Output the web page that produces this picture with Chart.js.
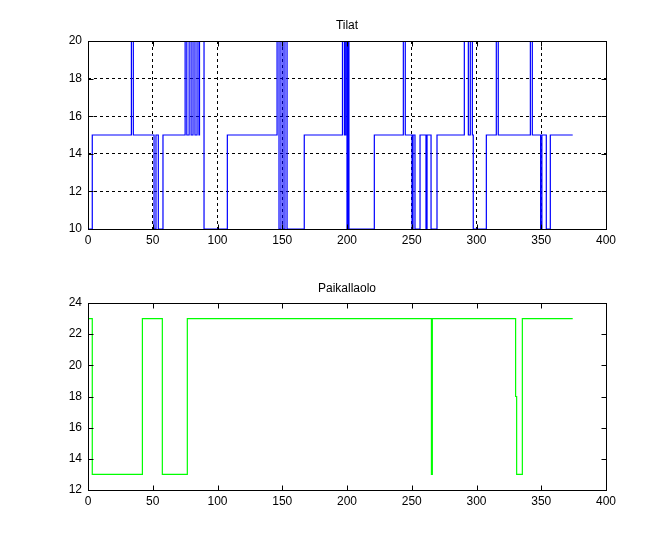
<!DOCTYPE html>
<html>
<head>
<meta charset="utf-8">
<script src="https://cdn.jsdelivr.net/npm/chart.js@4"></script>
<style>
  body { margin: 0; background: #fff; }
  .plot { position: absolute; left: 0; }
</style>
</head>
<body>
<canvas id="tilat" class="plot" width="670" height="275" style="top:0"></canvas>
<canvas id="paikalla" class="plot" width="670" height="275" style="top:275px"></canvas>
<script>
// Tilat: step positions and the state taken from that x onward
const tilatX = [0, 0.3, 3.3, 33.5, 35.0, 51.0, 52.5, 54.3, 57.9,
  75.0, 76.3, 78.1, 79.6, 81.1, 82.6, 84.2, 85.7, 86.1, 89.6,
  107.6, 146.0, 147.5, 149.0, 150.6, 152.1, 153.7, 167.0,
  196.5, 198.0, 199.0, 200.0, 200.8, 201.5, 221.1,
  243.5, 245.0, 250.2, 251.0, 252.5, 256.4, 261.0, 261.8, 264.9, 269.5,
  290.6, 293.7, 295.2, 296.8, 297.5, 307.6, 315.3, 316.8,
  341.6, 343.1, 349.5, 350.5, 353.9, 357.0, 374.3];
const tilatY = [20, 10, 15, 20, 15, 10, 15, 10, 15,
  20, 15, 20, 15, 20, 15, 20, 15, 20, 10,
  15, 20, 10, 20, 10, 20, 10, 15,
  20, 15, 20, 10, 20, 10, 15,
  20, 15, 10, 15, 10, 15, 10, 15, 10, 15,
  20, 15, 20, 15, 10, 15, 20, 15,
  20, 15, 10, 15, 10, 15, 15];

// Paikallaolo
const paikX = [0, 3.3, 42.0, 57.4, 76.7, 265.2, 265.9, 330.2, 331.0, 335.4, 374.3];
const paikY = [23, 13, 23, 13, 23, 13, 23, 18, 13, 23, 23];

const xTicks = [0, 50, 100, 150, 200, 250, 300, 350, 400];
const font = { family: 'Liberation Sans, Arial, sans-serif', size: 12 };

const toPoints = (xs, ys) => xs.map((x, i) => ({ x: x, y: ys[i] }));

// matlab style box with ticks pointing inwards
const boxPlugin = {
  id: 'box',
  afterDraw(chart) {
    const { ctx, chartArea: a, scales } = chart;
    const l = Math.round(a.left) + 0.5, r = Math.round(a.right) + 0.5;
    const t = Math.round(a.top) + 0.5, b = Math.round(a.bottom) + 0.5;
    const len = 5;
    ctx.save();
    ctx.strokeStyle = '#000';
    ctx.lineWidth = 1;
    ctx.setLineDash([]);
    ctx.beginPath();
    scales.x.ticks.forEach(tk => {
      const px = Math.round(scales.x.getPixelForValue(tk.value)) + 0.5;
      ctx.moveTo(px, b); ctx.lineTo(px, b - len);
      ctx.moveTo(px, t); ctx.lineTo(px, t + len);
    });
    scales.y.ticks.forEach(tk => {
      const py = Math.round(scales.y.getPixelForValue(tk.value)) + 0.5;
      ctx.moveTo(l, py); ctx.lineTo(l + len, py);
      ctx.moveTo(r, py); ctx.lineTo(r - len, py);
    });
    ctx.stroke();
    ctx.strokeRect(l, t, r - l, b - t);
    ctx.restore();
  }
};

function makeChart(id, opts) {
  return new Chart(document.getElementById(id), {
    type: 'line',
    data: {
      datasets: [{
        data: toPoints(opts.xs, opts.ys),
        borderColor: opts.color,
        borderWidth: 1.2,
        stepped: true,
        pointRadius: 0,
        fill: false
      }]
    },
    options: {
      responsive: false,
      animation: false,
      devicePixelRatio: 1,
      layout: { padding: { left: 0, right: 64, top: 0, bottom: 0 } },
      plugins: {
        legend: { display: false },
        tooltip: { enabled: false },
        title: {
          display: true,
          fullSize: false,
          text: opts.title,
          color: '#000',
          font: { family: font.family, size: font.size, weight: 'normal' },
          padding: opts.titlePad
        }
      },
      scales: {
        x: {
          type: 'linear',
          min: 0,
          max: 400,
          afterBuildTicks: s => { s.ticks = xTicks.map(v => ({ value: v })); },
          ticks: { color: '#000', font: font, padding: 4, maxRotation: 0 },
          grid: { display: opts.grid, color: '#000', lineWidth: 1, drawTicks: false },
          border: { display: false, dash: [3, 3] },
          afterFit: s => { s.height = opts.xHeight; }
        },
        y: {
          min: opts.yMin,
          max: opts.yMax,
          ticks: { stepSize: 2, color: '#000', font: font, padding: 6 },
          grid: { display: opts.grid, color: '#000', lineWidth: 1, drawTicks: false },
          border: { display: false, dash: [3, 3] },
          afterFit: s => { s.width = 88; }
        }
      }
    },
    plugins: [boxPlugin]
  });
}

makeChart('tilat', {
  xs: tilatX, ys: tilatY, color: '#0000ff', title: 'Tilat',
  titlePad: { top: 18.8, bottom: 7.8 }, grid: true,
  yMin: 10, yMax: 20, xHeight: 46
});

makeChart('paikalla', {
  xs: paikX, ys: paikY, color: '#00ff00', title: 'Paikallaolo',
  titlePad: { top: 6.8, bottom: 6.8 }, grid: false,
  yMin: 12, yMax: 24, xHeight: 60
});
</script>
</body>
</html>
